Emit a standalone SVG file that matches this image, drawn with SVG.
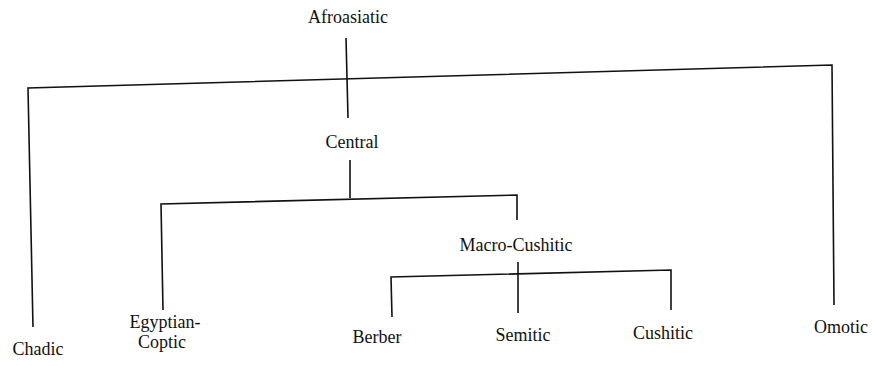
<svg xmlns="http://www.w3.org/2000/svg" width="874" height="366" viewBox="0 0 874 366">
<style>
text{font-family:"Liberation Serif","Times New Roman",serif;font-size:18px;fill:#111;text-anchor:middle}
.c{fill:none;stroke:#111;stroke-width:1.6;stroke-linejoin:miter}
</style>
<rect width="874" height="366" fill="#fff"/>
<g id="connectors">
<path class="c" d="M346 38 L348 118"/>
<path class="c" d="M33 327 L28 88 L832 65 L834 305"/>
<path class="c" d="M350 160 L350 198"/>
<path class="c" d="M163 310 L161 204 L517 195 L517 220"/>
<path class="c" d="M518 262 L518 313"/>
<path class="c" d="M392 317 L391 277 L671 270 L671 310"/>
</g>
<g id="afroasiatic"><text x="348" y="23">Afroasiatic</text></g>
<g id="central"><text x="352" y="148">Central</text></g>
<g id="macro-cushitic"><text x="516" y="251">Macro-Cushitic</text></g>
<g id="chadic"><text x="38" y="355">Chadic</text></g>
<g id="egyptian-coptic"><text x="165" y="328">Egyptian-</text><text x="162" y="348">Coptic</text></g>
<g id="berber"><text x="377" y="343">Berber</text></g>
<g id="semitic"><text x="523" y="341">Semitic</text></g>
<g id="cushitic"><text x="663" y="339">Cushitic</text></g>
<g id="omotic"><text x="841" y="333">Omotic</text></g>
</svg>
